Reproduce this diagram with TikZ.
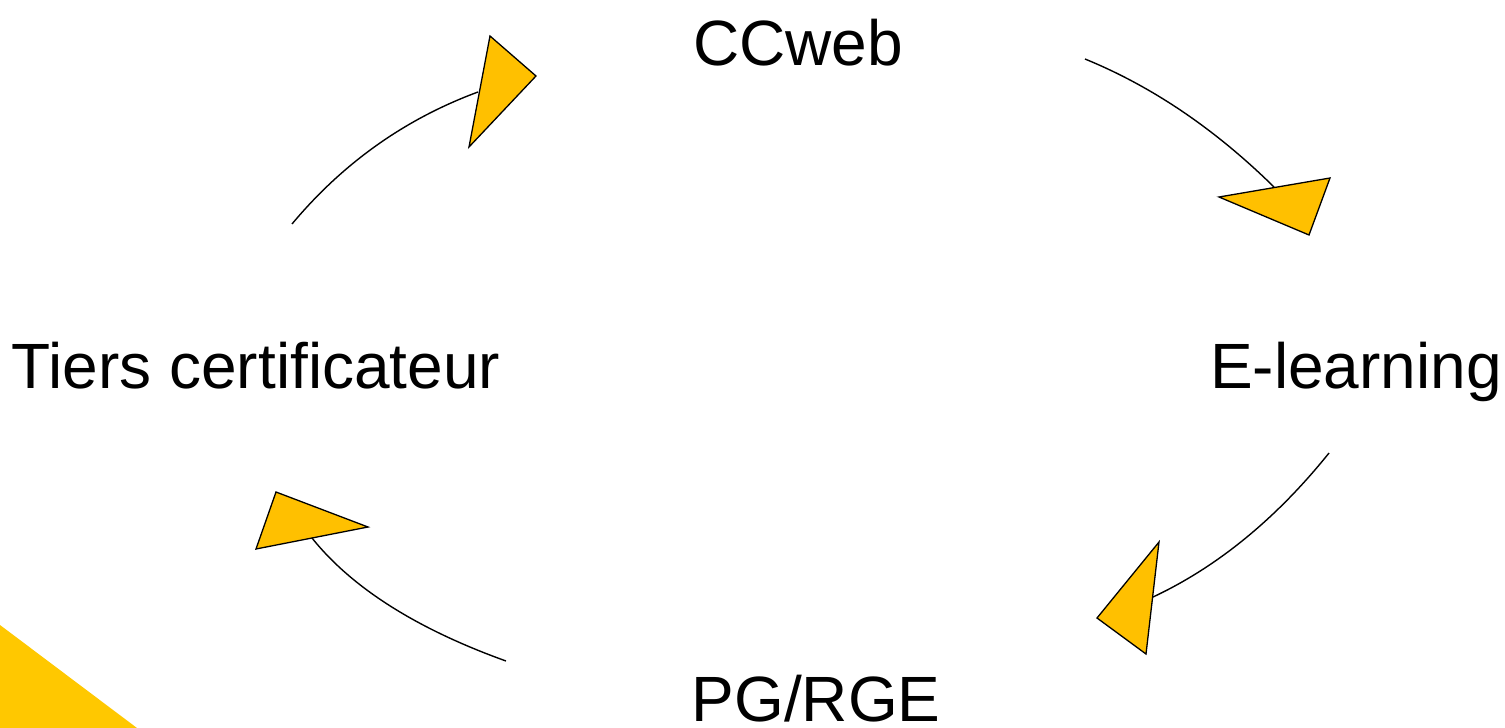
\documentclass[tikz,border=0pt]{standalone}
\usepackage{fontspec}
\setmainfont{Liberation Sans}
\definecolor{arrowyellow}{RGB}{255,192,0}
\definecolor{corneryellow}{RGB}{255,200,0}
\tikzset{
  label/.style={anchor=base, inner sep=0pt, font=\fontsize{64}{77}\selectfont},
  arc/.style={draw=black, line width=1.4pt},
  head/.style={fill=arrowyellow, draw=black, line width=1.3pt, line join=miter}
}
\begin{document}
\begin{tikzpicture}[x=1pt,y=-1pt]
\useasboundingbox[fill=white] (0,0) rectangle (1505,728);
% corner decoration
\fill[corneryellow] (0,625) -- (137,728) -- (0,728) -- cycle;
% labels
\node[label] (cc) at (798,65) {CCweb};
\node[label] (el) at (1356,388) {E-learning};
\node[label, text depth=0pt] (pg) at (816,721) {PG/RGE};
\node[label] (tc) at (256,388) {Tiers certificateur};
% arc endpoints
\coordinate (a1s) at (292,224); \coordinate (a1e) at (478,92);
\coordinate (a2s) at (1085,59); \coordinate (a2e) at (1274,187);
\coordinate (a3s) at (1329,453); \coordinate (a3e) at (1153,597);
\coordinate (a4s) at (506,661); \coordinate (a4e) at (312,538);
% arcs
\draw[arc] (a1s) .. controls (343,163) and (405,119) .. (a1e);
\draw[arc] (a2s) .. controls (1151,86) and (1214,128) .. (a2e);
\draw[arc] (a3s) .. controls (1276,519) and (1217,567) .. (a3e);
\draw[arc] (a4s) .. controls (417,629) and (352,588) .. (a4e);
% arrowheads
\draw[head] (490,36) -- (536,76) -- (469,147) -- cycle;
\draw[head] (1219,197) -- (1330,178) -- (1309,235) -- cycle;
\draw[head] (1159,542) -- (1097,618) -- (1146,654) -- cycle;
\draw[head] (276,492) -- (368,527) -- (256,549) -- cycle;
\end{tikzpicture}
\end{document}
